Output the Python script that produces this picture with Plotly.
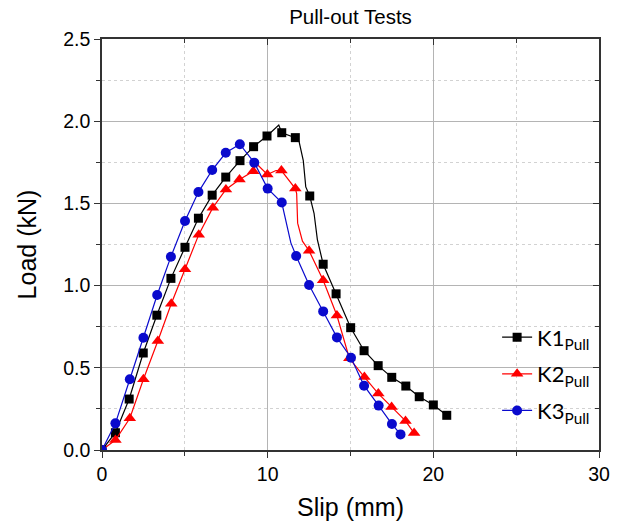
import plotly.graph_objects as go

# Pull-out test curves: slip (mm) vs load (kN).
# *_mark flags which recorded points carry a symbol on the curve.
k1_slip = [0.0, 0.81, 1.64, 2.49, 3.31, 4.16, 5.01, 5.82, 6.65, 7.47, 8.33, 9.15, 9.96,
           10.67, 10.85, 11.67, 11.9, 12.15, 12.3, 12.54, 12.8, 13.0, 13.35, 14.13,
           15.01, 15.82, 16.67, 17.49, 18.34, 19.15, 20.0, 20.81]
k1_load = [0.0, 0.105, 0.31, 0.59, 0.82, 1.044, 1.233, 1.41, 1.55, 1.66, 1.76, 1.845, 1.91,
           1.977, 1.93, 1.90, 1.875, 1.76, 1.60, 1.545, 1.44, 1.28, 1.13, 0.95,
           0.744, 0.604, 0.513, 0.442, 0.389, 0.324, 0.274, 0.211]
k1_mark = [1, 1, 1, 1, 1, 1, 1, 1, 1, 1, 1, 1, 1,
           0, 1, 1, 0, 0, 0, 1, 0, 0, 1, 1,
           1, 1, 1, 1, 1, 1, 1, 1]

k2_slip = [0.0, 0.81, 1.68, 2.5, 3.37, 4.18, 5.01, 5.84, 6.69, 7.48, 8.3, 9.13, 9.3,
           9.98, 10.5, 10.83, 11.67, 11.75, 11.81, 12.1, 12.5, 13.35, 14.18, 14.93,
           15.84, 16.68, 17.48, 18.32, 18.84]
k2_load = [0.0, 0.061, 0.193, 0.43, 0.663, 0.89, 1.10, 1.31, 1.474, 1.585, 1.645, 1.695, 1.744,
           1.676, 1.70, 1.70, 1.59, 1.56, 1.38, 1.27, 1.212, 1.032, 0.818, 0.558,
           0.444, 0.343, 0.262, 0.177, 0.103]
k2_mark = [1, 1, 1, 1, 1, 1, 1, 1, 1, 1, 1, 1, 0,
           1, 0, 1, 1, 0, 0, 0, 1, 1, 1, 1,
           1, 1, 1, 1, 1]

k3_slip = [0.0, 0.81, 1.68, 2.5, 3.33, 4.16, 5.01, 5.82, 6.65, 7.47, 8.32, 9.19, 10.0,
           10.85, 11.03, 11.22, 11.4, 11.72, 12.5, 13.35, 14.18, 15.03, 15.82, 16.7,
           17.5, 18.02]
k3_load = [0.0, 0.162, 0.43, 0.683, 0.943, 1.176, 1.393, 1.569, 1.703, 1.808, 1.86, 1.748, 1.59,
           1.505, 1.42, 1.34, 1.26, 1.18, 1.004, 0.843, 0.685, 0.561, 0.391, 0.27,
           0.158, 0.095]
k3_mark = [1, 1, 1, 1, 1, 1, 1, 1, 1, 1, 1, 1, 1,
           1, 0, 0, 0, 1, 1, 1, 1, 1, 1, 1,
           1, 1]

series = [
    ("K1<sub>Pull</sub>", k1_slip, k1_load, k1_mark, "#000000", "square", 9),
    ("K2<sub>Pull</sub>", k2_slip, k2_load, k2_mark, "#ff0000", "triangle-up", 11),
    ("K3<sub>Pull</sub>", k3_slip, k3_load, k3_mark, "#0a0acd", "circle", 10),
]

AX = "#333333"
GRID = "#b4b4b4"
FONT = "Liberation Sans, Arial, sans-serif"

fig = go.Figure()
for i, (name, xs, ys, marks, color, symbol, size) in enumerate(series):
    fig.add_trace(go.Scatter(
        x=xs, y=ys, name=name, mode="lines+markers",
        legendgroup=f"g{i}",
        line=dict(color=color, width=1.2),
        marker=dict(symbol=symbol, size=size,
                    color=[color if m else "rgba(0,0,0,0)" for m in marks],
                    line=dict(width=0)),
    ))

# overlay axes carrying the inward ticks on the top and right edges
fig.add_trace(go.Scatter(x=[None], y=[None], xaxis="x2", yaxis="y2",
                         showlegend=False, hoverinfo="skip"))

fig.update_layout(
    width=622, height=532,
    margin=dict(l=102, r=13, t=39, b=82),
    paper_bgcolor="white", plot_bgcolor="white",
    font=dict(family=FONT, color="#000000"),
    title=dict(text="Pull-out Tests", x=0.5, xref="paper", xanchor="center",
               y=0.968, yanchor="middle", font=dict(size=20.5, family=FONT)),
    xaxis=dict(
        range=[0, 30], dtick=10, tick0=0,
        showline=True, linecolor=AX, linewidth=1.6, mirror=True,
        ticks="outside", ticklen=6, tickwidth=1.4, tickcolor=AX,
        showgrid=True, gridcolor=GRID, gridwidth=1,
        minor=dict(dtick=5, ticks="outside", ticklen=4, tickcolor=AX,
                   showgrid=True, gridcolor="#d2d2d2", griddash="dot", gridwidth=1),
        tickfont=dict(size=19.5, family=FONT),
        title=dict(text="Slip (mm)", font=dict(size=25, family=FONT), standoff=14),
        zeroline=False,
    ),
    yaxis=dict(
        range=[0, 2.5], dtick=0.5, tick0=0, tickformat=".1f",
        showline=True, linecolor=AX, linewidth=1.6, mirror=True,
        ticks="outside", ticklen=6, tickwidth=1.4, tickcolor=AX,
        showgrid=True, gridcolor=GRID, gridwidth=1,
        minor=dict(dtick=0.25, ticks="outside", ticklen=4, tickcolor=AX,
                   showgrid=True, gridcolor="#d2d2d2", griddash="dot", gridwidth=1),
        tickfont=dict(size=19.5, family=FONT),
        title=dict(text="Load (kN)", font=dict(size=25, family=FONT), standoff=19),
        zeroline=False,
    ),
    xaxis2=dict(
        overlaying="x", side="top", range=[0, 30], dtick=10, tick0=0,
        ticks="inside", ticklen=6, tickwidth=1.4, tickcolor=AX,
        showticklabels=False, showgrid=False, zeroline=False, showline=False,
        minor=dict(dtick=5, ticks="inside", ticklen=4, tickcolor=AX, showgrid=False),
    ),
    yaxis2=dict(
        overlaying="y", side="right", range=[0, 2.5], dtick=0.5, tick0=0,
        ticks="inside", ticklen=6, tickwidth=1.4, tickcolor=AX,
        showticklabels=False, showgrid=False, zeroline=False, showline=False,
        minor=dict(dtick=0.25, ticks="inside", ticklen=4, tickcolor=AX, showgrid=False),
    ),
    legend=dict(
        x=0.795, y=0.325, xanchor="left", yanchor="top",
        bgcolor="rgba(255,255,255,0)", borderwidth=0,
        font=dict(size=22, family="Lato, Carlito, sans-serif"),
        traceorder="grouped", tracegroupgap=5,
    ),
    showlegend=True,
)

fig.write_html("out.html")
